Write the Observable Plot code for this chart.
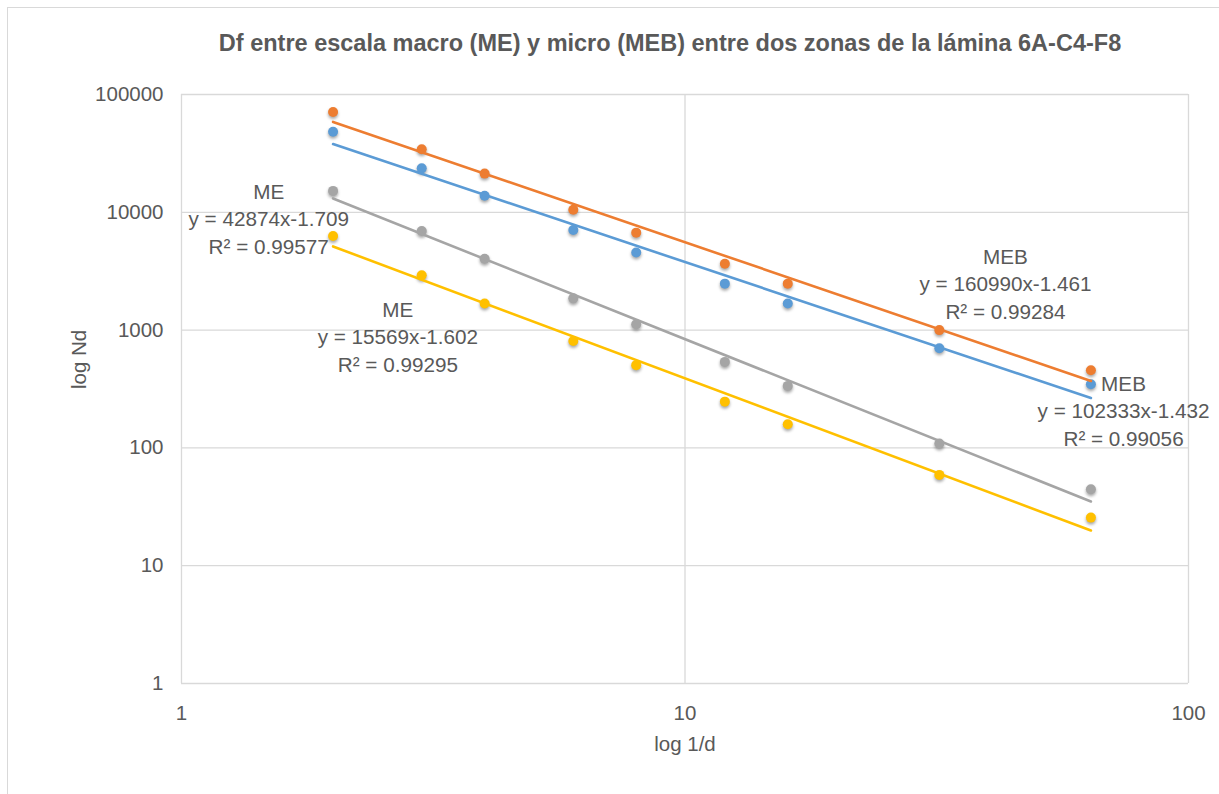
<!DOCTYPE html>
<html><head><meta charset="utf-8">
<script src="https://cdn.jsdelivr.net/npm/d3@7"></script>
<script src="https://cdn.jsdelivr.net/npm/@observablehq/plot@0.6"></script>
<style>
body{margin:0;background:#fff;}
#wrap{position:relative;width:1219px;height:794px;overflow:hidden;font-family:"Liberation Sans",Arial,sans-serif;}
#frame{position:absolute;left:7px;top:7px;width:1300px;height:900px;border-left:1px solid #d9d9d9;border-top:1px solid #d9d9d9;}
#wrap svg{position:absolute;left:0;top:0;}
.pts circle{filter:drop-shadow(0px 2px 1.5px rgba(0,0,0,0.35));}
</style></head><body><div id="wrap"><div id="frame"></div></div>
<script>
const titleText = "Df entre escala macro (ME) y micro (MEB) entre dos zonas de la lámina 6A-C4-F8";
const xLabel = "log 1/d";
const yLabel = "log Nd";
const xValues = [2, 3, 4, 6, 8, 12, 16, 32, 64];
const mebOrange = [71000, 34300, 21300, 10500, 6720, 3660, 2480, 1000, 456];
const mebBlue = [48300, 23600, 13800, 7080, 4550, 2480, 1680, 702, 347];
const meGray = [15200, 6940, 4040, 1860, 1120, 537, 336, 109, 44.6];
const meYellow = [6300, 2920, 1680, 809, 504, 247, 159, 59, 25.6];
const seriesValues = [mebOrange, mebBlue, meGray, meYellow];
const colors = ["#ED7D31", "#5B9BD5", "#A5A5A5", "#FFC000"];
const coefA = [160990, 102333, 42874, 15569];
const coefB = [-1.461, -1.432, -1.709, -1.602];
const r2 = ["0.99284", "0.99056", "0.99577", "0.99295"];
const labelTitles = ["MEB", "MEB", "ME", "ME"];
const labelX = [43.3, 74.3, 1.49, 2.69];
const labelY = [2535, 212, 9040, 900];
const xTicks = [1, 10, 100];
const yTicks = [1, 10, 100, 1000, 10000, 100000];

const font = '"Liberation Sans", Arial, sans-serif';
const textColor = "#595959";
const gridColor = "#d9d9d9";

const marks = [
  Plot.ruleY(yTicks, {stroke: gridColor, strokeWidth: 1.3}),
  Plot.ruleX(xTicks, {stroke: gridColor, strokeWidth: 1.3}),
  Plot.axisY(yTicks, {tickSize: 0, tickPadding: 18, tickFormat: d => String(d), label: null, fontSize: 20.5, fill: textColor}),
  Plot.axisX(xTicks, {tickSize: 0, tickPadding: 22, tickFormat: d => String(d), label: null, fontSize: 20.5, fill: textColor})
];

seriesValues.forEach((vals, s) => {
  marks.push(Plot.dot(xValues, {x: d => d, y: (d, i) => vals[i], r: 5, fill: colors[s], stroke: "none", className: "pts"}));
});
seriesValues.forEach((vals, s) => {
  const ends = [xValues[0], xValues[xValues.length - 1]];
  marks.push(Plot.line(ends, {x: d => d, y: d => coefA[s] * Math.pow(d, coefB[s]), stroke: colors[s], strokeWidth: 2.6}));
});

marks.push(Plot.text([0, 1, 2, 3], {
  x: i => labelX[i], y: i => labelY[i],
  text: i => `${labelTitles[i]}\ny = ${coefA[i]}x${coefB[i]}\nR² = ${r2[i]}`,
  lineHeight: 1.33, fontSize: 20.7, fill: textColor, textAnchor: "middle", lineAnchor: "middle"
}));
marks.push(Plot.text([titleText], {frameAnchor: "top", lineAnchor: "middle", dy: -51, dx: -15, fontSize: 23.5, fontWeight: "bold", fill: textColor}));
marks.push(Plot.text([xLabel], {frameAnchor: "bottom", lineAnchor: "middle", dy: 61, fontSize: 20.5, fill: textColor}));
marks.push(Plot.text([yLabel], {frameAnchor: "left", lineAnchor: "middle", dx: -102, rotate: -90, fontSize: 20.5, fill: textColor}));

const chart = Plot.plot({
  width: 1219, height: 794,
  marginLeft: 181, marginRight: 31, marginTop: 94, marginBottom: 111,
  x: {type: "log", domain: [1, 100]},
  y: {type: "log", domain: [1, 100000]},
  style: {fontFamily: font, fontSize: "20px", color: textColor, background: "transparent"},
  marks
});
document.getElementById("wrap").appendChild(chart);
</script>
</body></html>
